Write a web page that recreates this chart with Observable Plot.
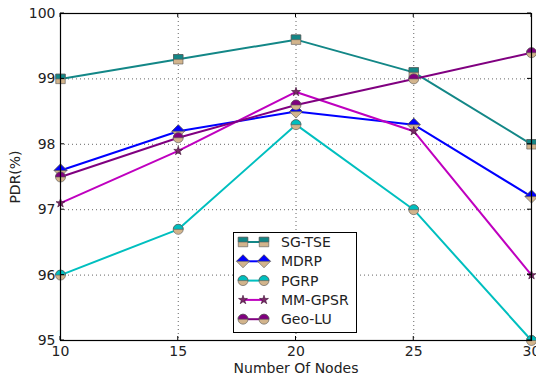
<!DOCTYPE html>
<html>
<head>
<meta charset="utf-8">
<script src="https://cdn.jsdelivr.net/npm/d3@7"></script>
<script src="https://cdn.jsdelivr.net/npm/@observablehq/plot@0.6"></script>
<style>
  html, body { margin: 0; padding: 0; background: #fff; }
  svg { font-family: "DejaVu Sans", sans-serif; }
</style>
</head>
<body>
<div id="chart"></div>
<script>
const nodes = [10, 15, 20, 25, 30];
const yTicks = [95, 96, 97, 98, 99, 100];
const seriesNames = ["SG-TSE", "MDRP", "PGRP", "MM-GPSR", "Geo-LU"];
const sgTse  = [99.0, 99.3, 99.6, 99.1, 98.0];
const mdrp   = [97.6, 98.2, 98.5, 98.3, 97.2];
const pgrp   = [96.0, 96.7, 98.3, 97.0, 95.0];
const mmGpsr = [97.1, 97.9, 98.8, 98.2, 96.0];
const geoLu  = [97.5, 98.1, 98.6, 99.0, 99.4];
const seriesValues = [sgTse, mdrp, pgrp, mmGpsr, geoLu];
const colors = ["#138787", "#0000ff", "#00bfbf", "#bf00bf", "#800080"];
const markerKinds = ["square", "diamond", "circle", "star", "circle"];
const tan = "#d2b48c";
const starR = 2.8;

function makeSym(kind, upper) {
  return {
    draw(ctx, size) {
      const r = Math.sqrt(size / Math.PI);
      if (kind === "circle") {
        if (upper) { ctx.moveTo(-r, 0); ctx.arc(0, 0, r, Math.PI, 2 * Math.PI); ctx.closePath(); }
        else { ctx.moveTo(r, 0); ctx.arc(0, 0, r, 0, 2 * Math.PI); ctx.closePath(); }
      } else if (kind === "square") {
        const h = r * 0.95;
        if (upper) ctx.rect(-h, -h, 2 * h, h);
        else ctx.rect(-h, -h, 2 * h, 2 * h);
      } else if (kind === "diamond") {
        const d = r * 1.3;
        if (upper) { ctx.moveTo(-d, 0); ctx.lineTo(0, -d); ctx.lineTo(d, 0); ctx.closePath(); }
        else { ctx.moveTo(0, -d); ctx.lineTo(d, 0); ctx.lineTo(0, d); ctx.lineTo(-d, 0); ctx.closePath(); }
      }
    }
  };
}

const rowsBySeries = seriesNames.map((name, i) =>
  nodes.map((n, j) => ({ series: name, nodes: n, pdr: seriesValues[i][j] }))
);

const seriesMarks = [];
rowsBySeries.forEach((rows, i) => {
  const kind = markerKinds[i];
  seriesMarks.push(Plot.line(rows, { x: "nodes", y: "pdr", stroke: colors[i], strokeWidth: 2 }));
  if (kind === "star") {
    seriesMarks.push(Plot.dot(rows, { x: "nodes", y: "pdr", symbol: d3.symbolStar, r: starR, fill: "#7a2a68", stroke: "#3a0a30", strokeWidth: 0.6 }));
  } else {
    seriesMarks.push(Plot.dot(rows, { x: "nodes", y: "pdr", symbol: makeSym(kind, false), r: 5, fill: tan, stroke: "#555", strokeWidth: 0.6 }));
    seriesMarks.push(Plot.dot(rows, { x: "nodes", y: "pdr", symbol: makeSym(kind, true), r: 5, fill: colors[i], stroke: "#555", strokeWidth: 0.6 }));
  }
});

const plot = Plot.plot({
  width: 536,
  height: 376,
  marginLeft: 60,
  marginRight: 5,
  marginTop: 13,
  marginBottom: 36,
  style: { fontFamily: "DejaVu Sans, sans-serif", fontSize: "14px", background: "#fff" },
  x: { domain: [10, 30] },
  y: { domain: [95, 100] },
  marks: [
    Plot.gridX(nodes, { stroke: "#666", strokeOpacity: 1, strokeDasharray: "1,3" }),
    Plot.gridY(yTicks, { stroke: "#666", strokeOpacity: 1, strokeDasharray: "1,3" }),
    Plot.axisX(nodes, { tickSize: 0, tickPadding: 6, fontSize: 14, fill: "#222", tickFormat: "d", label: "Number Of Nodes", labelAnchor: "center", labelOffset: 32, labelArrow: "none" }),
    Plot.axisY(yTicks, { tickSize: 0, tickPadding: 5, fontSize: 14, fill: "#222", tickFormat: "d", label: "PDR(%)", labelAnchor: "center", labelOffset: 50, labelArrow: "none" }),
    ...seriesMarks,
    Plot.frame({ stroke: "#000", strokeWidth: 1.2 })
  ]
});

// inward ticks and legend
const svg = d3.select(plot);
const xs = plot.scale("x"), ys = plot.scale("y");
const frameTop = 13, frameBottom = 376 - 36, frameLeft = 60, frameRight = 536 - 5;
const tg = svg.append("g").attr("stroke", "#000").attr("stroke-width", 1);
nodes.forEach(v => {
  const x = xs.apply(v);
  tg.append("line").attr("x1", x).attr("x2", x).attr("y1", frameBottom).attr("y2", frameBottom - 4);
  tg.append("line").attr("x1", x).attr("x2", x).attr("y1", frameTop).attr("y2", frameTop + 4);
});
yTicks.forEach(v => {
  const y = ys.apply(v);
  tg.append("line").attr("x1", frameLeft).attr("x2", frameLeft + 4).attr("y1", y).attr("y2", y);
  tg.append("line").attr("x1", frameRight).attr("x2", frameRight - 4).attr("y1", y).attr("y2", y);
});

const lg = svg.append("g").attr("text-anchor", "start");
lg.append("rect").attr("x", 233.5).attr("y", 232.5).attr("width", 123).attr("height", 100)
  .attr("fill", "#fff").attr("stroke", "#000").attr("stroke-width", 1);
seriesNames.forEach((name, i) => {
  const y = 242 + i * 19.3;
  const g = lg.append("g");
  g.append("line").attr("x1", 243).attr("x2", 264).attr("y1", y).attr("y2", y)
    .attr("stroke", colors[i]).attr("stroke-width", 2);
  [243, 264].forEach(x => {
    const kind = markerKinds[i];
    if (kind === "star") {
      g.append("path").attr("d", d3.symbol(d3.symbolStar, starR * starR * Math.PI)())
        .attr("transform", `translate(${x},${y})`).attr("fill", "#7a2a68").attr("stroke", "#3a0a30").attr("stroke-width", 0.6);
    } else {
      g.append("path").attr("d", d3.symbol(makeSym(kind, false), 25 * Math.PI)())
        .attr("transform", `translate(${x},${y})`).attr("fill", tan).attr("stroke", "#555").attr("stroke-width", 0.6);
      g.append("path").attr("d", d3.symbol(makeSym(kind, true), 25 * Math.PI)())
        .attr("transform", `translate(${x},${y})`).attr("fill", colors[i]).attr("stroke", "#555").attr("stroke-width", 0.6);
    }
  });
  g.append("text").attr("x", 281).attr("y", y).attr("dy", "0.35em").attr("text-anchor", "start")
    .attr("font-size", 14).attr("fill", "#222").text(name);
});

document.getElementById("chart").appendChild(plot);
</script>
</body>
</html>
